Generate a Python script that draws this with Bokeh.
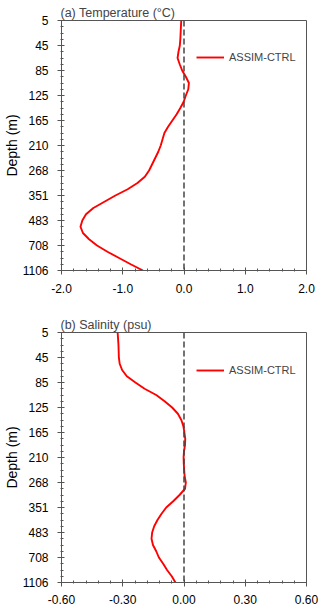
import numpy as np
from bokeh.plotting import figure
from bokeh.layouts import column
from bokeh.models import (Range1d, FixedTicker, NumeralTickFormatter, Span,
                          Legend, LegendItem)
from bokeh.embed import file_html
from bokeh.resources import INLINE

# ---------------- data ----------------
depth_labels = ["5", "45", "85", "125", "165", "210", "268", "351", "483", "708", "1106"]
# model level position (index units, 4 levels between labelled depths)
level_pos = [0, 0.25, 0.5, 0.75, 1, 1.25, 1.5, 1.75, 2, 2.25, 2.5, 2.75, 3, 3.25, 3.5, 3.75,
             4, 4.25, 4.5, 4.75, 5, 5.25, 5.5, 5.75, 6, 6.25, 6.5, 6.75, 7, 7.25, 7.5, 7.75,
             8, 8.25, 8.5, 8.75, 9, 9.25, 9.5, 9.75, 10]
temp_diff = [-0.045, -0.05, -0.055, -0.06, -0.068, -0.09, -0.105, -0.07, -0.03, 0.03, 0.08,
             0.07, 0.03, -0.005, -0.06, -0.12, -0.19, -0.26, -0.32, -0.35, -0.38, -0.42,
             -0.47, -0.52, -0.57, -0.64, -0.76, -0.92, -1.12, -1.30, -1.48, -1.60, -1.66,
             -1.69, -1.65, -1.55, -1.42, -1.25, -1.06, -0.87, -0.67]
salt_diff = [-0.325, -0.323, -0.321, -0.32, -0.319, -0.315, -0.303, -0.28, -0.238, -0.193,
             -0.136, -0.095, -0.058, -0.03, -0.013, -0.003, 0.002, 0.006, 0.005, 0.0,
             -0.002, -0.001, 0.001, 0.003, 0.009, 0.005, -0.022, -0.053, -0.087, -0.11,
             -0.13, -0.146, -0.156, -0.159, -0.152, -0.136, -0.123, -0.102, -0.083, -0.06,
             -0.042]
temp_ticks = [-2.0, -1.0, 0.0, 1.0, 2.0]
salt_ticks = [-0.6, -0.3, 0.0, 0.3, 0.6]

FONT = "Liberation Sans"
AX = "#555555"


def make_panel(xvals, xticks, minor_step, fmt, title, height, top, bottom, legend_y,
               xstand):
    x0, x1 = xticks[0], xticks[-1]
    p = figure(width=320, height=height, output_backend="svg", toolbar_location=None,
               x_range=Range1d(x0, x1), y_range=Range1d(10, 0),
               min_border_left=61, min_border_right=14,
               min_border_top=top, min_border_bottom=bottom,
               title=title)
    p.title.text_font = FONT
    p.title.text_font_size = "12.5px"
    p.title.text_font_style = "normal"
    p.title.align = "left"
    p.title.offset = -1
    p.title.standoff = 2
    p.grid.visible = False
    p.outline_line_color = AX
    p.outline_line_width = 1

    minor_x = list(np.round(np.arange(x0, x1 + 1e-9, minor_step), 6))
    p.xaxis.ticker = FixedTicker(ticks=xticks, minor_ticks=minor_x)
    p.xaxis.formatter = NumeralTickFormatter(format=fmt)
    minor_y = list(np.arange(0, 10.001, 0.25))
    p.yaxis.ticker = FixedTicker(ticks=list(range(11)), minor_ticks=minor_y)
    p.yaxis.major_label_overrides = {i: lab for i, lab in enumerate(depth_labels)}

    for ax in (p.xaxis[0], p.yaxis[0]):
        ax.axis_line_color = AX
        ax.major_tick_line_color = AX
        ax.minor_tick_line_color = AX
        ax.major_tick_in = 3
        ax.major_tick_out = 4
        ax.minor_tick_in = 2
        ax.minor_tick_out = 1
        ax.major_label_text_font = FONT
        ax.major_label_text_font_size = "12px"
        ax.major_label_text_color = "black"
    p.xaxis.major_label_standoff = xstand
    p.yaxis.major_label_standoff = 9
    p.yaxis.axis_label = "Depth (m)"
    p.yaxis.axis_label_text_font = FONT
    p.yaxis.axis_label_text_font_size = "14px"
    p.yaxis.axis_label_text_font_style = "normal"
    p.yaxis.axis_label_text_color = "black"
    p.yaxis.axis_label_standoff = 0

    p.add_layout(Span(location=0, dimension="height", line_color="#444444",
                      line_width=1.5, line_dash="6 3"))

    r = p.line(xvals, level_pos, line_color="#ff0000", line_width=1.9)

    legend = Legend(items=[LegendItem(label="ASSIM-CTRL", renderers=[r])],
                    location=(135, legend_y), padding=0, margin=0,
                    glyph_width=28, glyph_height=12, label_height=12,
                    label_standoff=5, label_text_font=FONT,
                    label_text_font_size="11px", border_line_alpha=0,
                    background_fill_alpha=0)
    p.add_layout(legend, "center")
    return p


pa = make_panel(temp_diff, temp_ticks, 0.2, "0.0", "(a) Temperature (\u00b0C)",
                300, 20, 30, 207, 9)
pb = make_panel(salt_diff, salt_ticks, 0.06, "0.00", "(b) Salinity (psu)",
                307, 32, 25, 206, 8)

layout = column(pa, pb, spacing=0)
open("out.html", "w").write(file_html(layout, INLINE))
